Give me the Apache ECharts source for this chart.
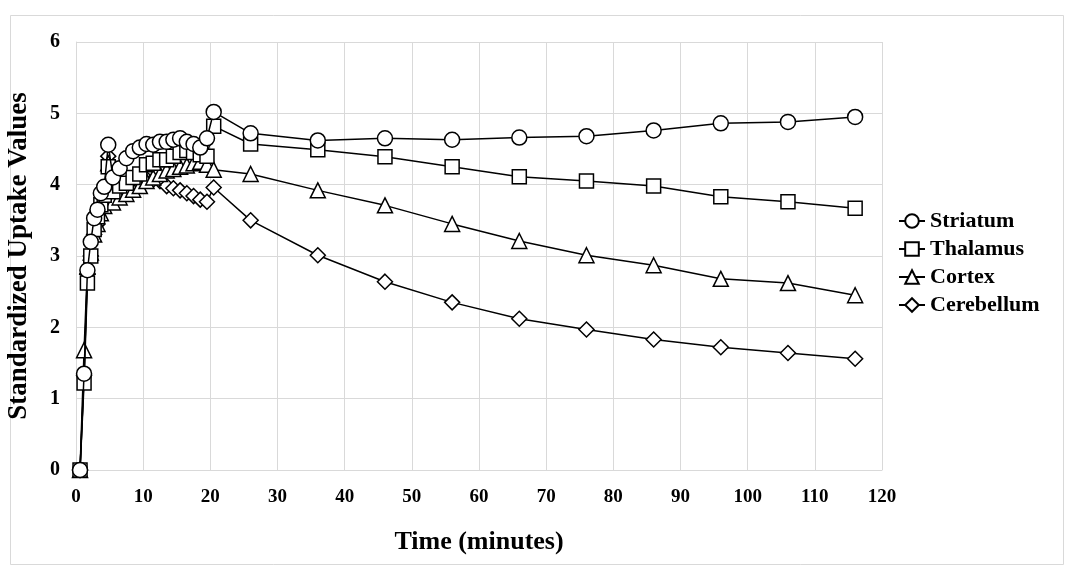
<!DOCTYPE html>
<html>
<head>
<meta charset="utf-8">
<script src="https://cdn.jsdelivr.net/npm/echarts@6/dist/echarts.min.js"></script>
<style>
html,body{margin:0;padding:0;background:#fff;}
#c{width:1069px;height:575px;}
</style>
</head>
<body>
<div id="c"></div>
<script>
var times = [0.6, 1.2, 1.7, 2.2, 2.7, 3.2, 3.7, 4.2, 4.8, 5.5, 6.5, 7.5, 8.5, 9.5, 10.5, 11.5, 12.5, 13.5, 14.5, 15.5, 16.5, 17.5, 18.5, 19.5, 20.5, 26, 36, 46, 56, 66, 76, 86, 96, 106, 116];
var striatum = [0, 1.35, 2.8, 3.2, 3.53, 3.65, 3.88, 3.97, 4.56, 4.1, 4.23, 4.37, 4.47, 4.52, 4.57, 4.56, 4.6, 4.6, 4.63, 4.65, 4.6, 4.57, 4.52, 4.65, 5.02, 4.72, 4.62, 4.65, 4.63, 4.66, 4.68, 4.76, 4.86, 4.88, 4.95];
var thalamus = [0, 1.22, 2.62, 3.0, 3.37, 3.55, 3.72, 3.85, 4.25, 3.9, 3.98, 4.02, 4.1, 4.15, 4.28, 4.3, 4.35, 4.35, 4.4, 4.45, 4.48, 4.45, 4.42, 4.4, 4.82, 4.57, 4.49, 4.39, 4.25, 4.11, 4.05, 3.98, 3.83, 3.76, 3.67];
var cortex = [0, 1.68, 2.85, 3.05, 3.3, 3.45, 3.6, 3.7, 4.3, 3.75, 3.82, 3.87, 3.93, 3.98, 4.05, 4.1, 4.15, 4.2, 4.22, 4.25, 4.27, 4.3, 4.32, 4.28, 4.21, 4.15, 3.92, 3.71, 3.45, 3.21, 3.01, 2.87, 2.68, 2.62, 2.45];
var cerebellum = [0, 1.33, 2.75, 3.0, 3.3, 3.45, 3.65, 3.75, 4.4, 3.85, 3.9, 3.95, 4.0, 4.05, 4.08, 4.07, 4.05, 3.98, 3.95, 3.92, 3.88, 3.84, 3.79, 3.76, 3.96, 3.5, 3.01, 2.64, 2.35, 2.12, 1.97, 1.83, 1.72, 1.64, 1.56];
var seriesNames = ['Striatum', 'Thalamus', 'Cortex', 'Cerebellum'];
var xTitle = 'Time (minutes)';
var yTitle = 'Standardized Uptake Values';

var FONT = '"Liberation Serif", "Times New Roman", serif';
function pairs(vals){ return times.map(function(t,i){ return [t, vals[i]]; }); }

var symbols = ['circle', 'rect', 'triangle', 'diamond'];
var sizes = [15, 14, 15, 15];
var zs = [5, 4, 3, 2];
var allVals = [striatum, thalamus, cortex, cerebellum];

var chart = echarts.init(document.getElementById('c'), null, {renderer:'canvas'});
chart.setOption({
  animation: false,
  backgroundColor: '#fff',
  graphic: [{
    type: 'rect', left: 8, top: 13, z: -10,
    shape: {width: 1053, height: 549},
    style: {fill: 'none', stroke: '#d9d9d9', lineWidth: 1}
  }],
  grid: {left: 76, right: 187, top: 42, bottom: 105, outerBoundsMode: 'none', containLabel: false},
  legend: {
    orient: 'vertical', left: 893, top: 205,
    itemWidth: 26, itemHeight: 17, itemGap: 6,
    data: seriesNames,
    textStyle: {fontFamily: FONT, fontWeight: 'bold', fontSize: 22, color: '#000'}
  },
  xAxis: {
    type: 'value', min: 0, max: 120, interval: 10,
    name: xTitle, nameLocation: 'middle', nameGap: 59,
    nameTextStyle: {fontFamily: FONT, fontWeight: 'bold', fontSize: 26, color: '#000'},
    axisLine: {show: true, lineStyle: {color: '#d9d9d9'}},
    axisTick: {show: false},
    axisLabel: {fontFamily: FONT, fontWeight: 'bold', fontSize: 19, color: '#000', margin: 18},
    splitLine: {show: true, lineStyle: {color: '#d9d9d9'}}
  },
  yAxis: {
    type: 'value', min: 0, max: 6, interval: 1,
    name: yTitle, nameLocation: 'middle', nameGap: 43,
    nameTextStyle: {fontFamily: FONT, fontWeight: 'bold', fontSize: 27, color: '#000'},
    axisLine: {show: true, lineStyle: {color: '#d9d9d9'}},
    axisTick: {show: false},
    axisLabel: {fontFamily: FONT, fontWeight: 'bold', fontSize: 20, color: '#000', margin: 16},
    splitLine: {show: true, lineStyle: {color: '#d9d9d9'}}
  },
  series: seriesNames.map(function(n, i){
    return {
      name: n, type: 'line', data: pairs(allVals[i]),
      symbol: symbols[i], symbolSize: sizes[i], z: zs[i],
      showAllSymbol: true,
      lineStyle: {color: '#000', width: 1.5},
      itemStyle: {color: '#fff', borderColor: '#000', borderWidth: 1.5},
      emphasis: {disabled: true}
    };
  })
});
</script>
</body>
</html>
